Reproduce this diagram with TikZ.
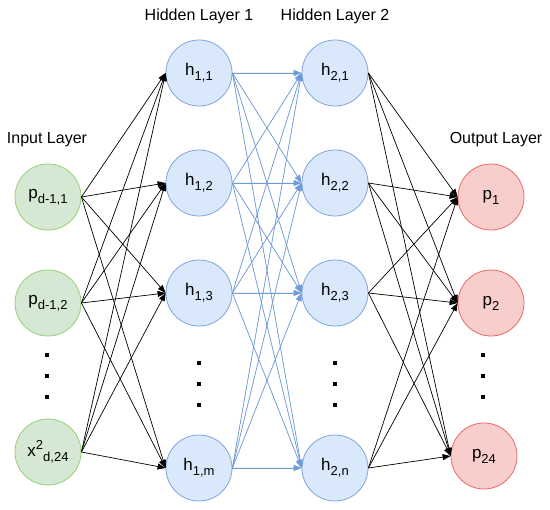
\documentclass[tikz,border=0pt]{standalone}
\usepackage{fontspec}
\setmainfont{Liberation Sans}
\usetikzlibrary{arrows.meta}
\definecolor{ginfill}{HTML}{D5E8D4}
\definecolor{ginline}{HTML}{97D077}
\definecolor{bfill}{HTML}{DAE8FC}
\definecolor{bline}{HTML}{7EA6E0}
\definecolor{rfill}{HTML}{F8CECC}
\definecolor{rline}{HTML}{EA6B66}
\definecolor{barrow}{HTML}{6F9BD8}
\newcommand{\lsub}[1]{{\fontsize{13}{13}\selectfont\raisebox{-5pt}{#1}}}
\newcommand{\lsup}[1]{{\fontsize{13}{13}\selectfont\raisebox{6.5pt}{#1}}}
\begin{document}
\begin{tikzpicture}[x=1pt,y=-1pt,
  neuron/.style={circle,minimum size=66pt,inner sep=0pt,line width=0.8pt,font=\fontsize{17}{19}\selectfont},
  inn/.style={neuron,draw=ginline,fill=ginfill},
  hid/.style={neuron,draw=bline,fill=bfill},
  outn/.style={neuron,draw=rline,fill=rfill},
  title/.style={font=\fontsize{16}{18}\selectfont,inner sep=0pt},
  dotbox/.style={fill=black,minimum size=3.8pt,inner sep=0pt},
  conn/.style={line width=0.7pt,-{Triangle[length=8pt,width=6pt]}},
  bconn/.style={conn,draw=barrow,fill=barrow},
]
\useasboundingbox (0,0) rectangle (550,510);
\fill[white] (0,0) rectangle (550,510);

% titles
\node[title] (tin) at (47,140) {Input Layer};
\node[title] (th1) at (199,16) {Hidden Layer 1};
\node[title] (th2) at (335,16) {Hidden Layer 2};
\node[title] (tout) at (496,140) {Output Layer};

% input layer
\node[inn] (i1) at (48,197) {p\lsub{d-1,1}};
\node[inn] (i2) at (48,303) {p\lsub{d-1,2}};
\node[inn] (i3) at (48,452) {x\lsup{2}\lsub{d,24}};

% hidden 1
\node[hid] (a1) at (199,73) {h\lsub{1,1}};
\node[hid] (a2) at (199,183) {h\lsub{1,2}};
\node[hid] (a3) at (199,293) {h\lsub{1,3}};
\node[hid] (a4) at (199,468) {h\lsub{1,m}};

% hidden 2
\node[hid] (b1) at (335,73) {h\lsub{2,1}};
\node[hid] (b2) at (335,183) {h\lsub{2,2}};
\node[hid] (b3) at (335,293) {h\lsub{2,3}};
\node[hid] (b4) at (335,468) {h\lsub{2,n}};

% output
\node[outn] (o1) at (491,197) {p\lsub{1}};
\node[outn] (o2) at (491,303) {p\lsub{2}};
\node[outn] (o3) at (484,456) {p\lsub{24}};

% vertical dots
\node[dotbox] (di1) at (47,355) {};
\node[dotbox] (di2) at (47,376) {};
\node[dotbox] (di3) at (47,397) {};
\node[dotbox] (da1) at (199,363) {};
\node[dotbox] (da2) at (199,384) {};
\node[dotbox] (da3) at (199,405) {};
\node[dotbox] (db1) at (335,363) {};
\node[dotbox] (db2) at (335,384) {};
\node[dotbox] (db3) at (335,405) {};
\node[dotbox] (do1) at (483,355) {};
\node[dotbox] (do2) at (483,376) {};
\node[dotbox] (do3) at (483,397) {};

% connections input -> hidden 1
\foreach \s in {i1,i2,i3}
  \foreach \t in {a1,a2,a3,a4}
    \draw[conn] (\s.east) -- (\t.west);
% hidden 1 -> hidden 2
\foreach \s in {a1,a2,a3,a4}
  \foreach \t in {b1,b2,b3,b4}
    \draw[bconn] (\s.east) -- (\t.west);
% hidden 2 -> output
\foreach \s in {b1,b2,b3,b4}
  \foreach \t in {o1,o2,o3}
    \draw[conn] (\s.east) -- (\t.west);
\end{tikzpicture}
\end{document}
